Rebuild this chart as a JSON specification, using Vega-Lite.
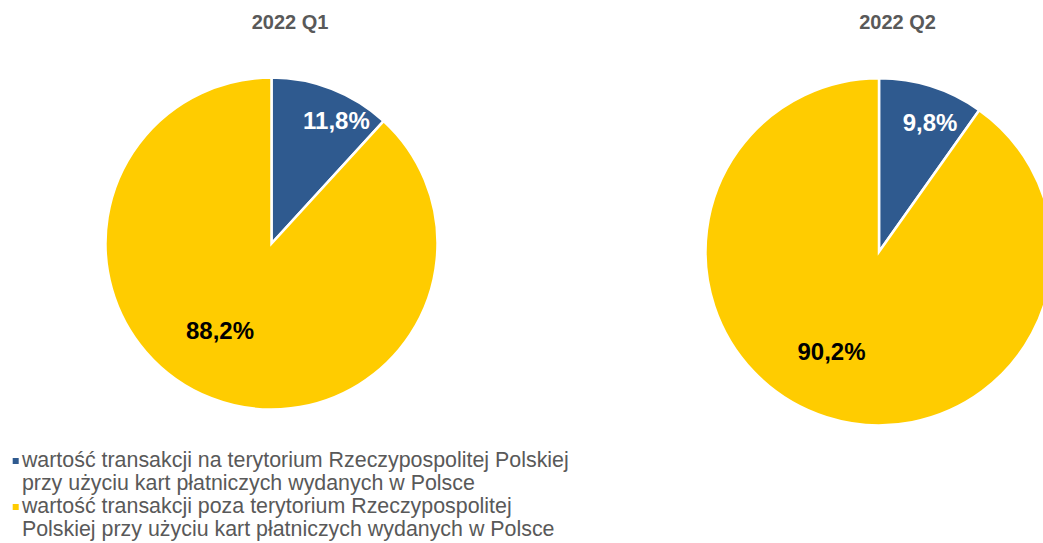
{
  "$schema": "https://vega.github.io/schema/vega-lite/v6.json",
  "width": 1043,
  "height": 503,
  "autosize": "none",
  "padding": {"top": 40, "left": 0, "right": 0, "bottom": 0},
  "background": "white",
  "config": {
    "view": {"stroke": null},
    "font": "Liberation Sans",
    "locale": {
      "number": {"decimal": ",", "thousands": " ", "grouping": [3], "currency": ["", " zł"], "percent": "%"}
    }
  },
  "data": {
    "values": [
      {"quarter": "2022 Q1", "category": "wartość transakcji na terytorium Rzeczypospolitej Polskiej przy użyciu kart płatniczych wydanych w Polsce", "value": 0.118},
      {"quarter": "2022 Q1", "category": "wartość transakcji poza terytorium Rzeczypospolitej Polskiej przy użyciu kart płatniczych wydanych w Polsce", "value": 0.882},
      {"quarter": "2022 Q2", "category": "wartość transakcji na terytorium Rzeczypospolitej Polskiej przy użyciu kart płatniczych wydanych w Polsce", "value": 0.098},
      {"quarter": "2022 Q2", "category": "wartość transakcji poza terytorium Rzeczypospolitej Polskiej przy użyciu kart płatniczych wydanych w Polsce", "value": 0.902}
    ]
  },
  "encoding": {
    "x": {
      "field": "quarter", "type": "nominal",
      "scale": {"type": "point", "range": [271.5, 879], "padding": 0},
      "axis": {
        "orient": "top", "title": null, "domain": false, "ticks": false, "grid": false,
        "labelAngle": 0, "labelFontSize": 20, "labelFontWeight": "bold", "labelColor": "#595959",
        "labelFont": "Liberation Sans", "labelBaseline": "alphabetic", "labelPadding": 12, "labelOffset": 18
      }
    },
    "y": {
      "field": "quarter", "type": "nominal",
      "scale": {"type": "point", "range": [203.5, 211.8], "padding": 0},
      "axis": null
    },
    "theta": {"field": "value", "type": "quantitative", "stack": true, "scale": {"domain": [0, 1]}}
  },
  "layer": [
    {
      "transform": [{"filter": "datum.quarter === '2022 Q1'"}],
      "mark": {"type": "arc", "outerRadius": 166, "stroke": "white", "strokeWidth": 2.5},
      "encoding": {
        "color": {
          "field": "category", "type": "nominal",
          "scale": {
            "domain": [
              "wartość transakcji na terytorium Rzeczypospolitej Polskiej przy użyciu kart płatniczych wydanych w Polsce",
              "wartość transakcji poza terytorium Rzeczypospolitej Polskiej przy użyciu kart płatniczych wydanych w Polsce"
            ],
            "range": ["#2F5A8F", "#FFCC00"]
          },
          "legend": {
            "orient": "none", "legendX": 5, "legendY": 409, "title": null,
            "symbolType": "M-1,2.7H1V4.7H-1Z", "symbolSize": 36, "symbolStrokeWidth": 0,
            "labelFont": "Liberation Sans", "labelFontSize": 21.4, "labelColor": "#595959",
            "labelLimit": 0, "labelBaseline": "top", "rowPadding": 0, "labelOffset": -4.5, "clipHeight": 2,
            "labelExpr": "indexof(datum.label, ' poza ') < 0 ? [slice(datum.label, 0, indexof(datum.label, ' przy')), slice(datum.label, indexof(datum.label, ' przy') + 1)] : [slice(datum.label, 0, indexof(datum.label, ' Polskiej')), slice(datum.label, indexof(datum.label, ' Polskiej') + 1)]"
          }
        }
      }
    },
    {
      "transform": [{"filter": "datum.quarter === '2022 Q2'"}],
      "mark": {"type": "arc", "outerRadius": 173.5, "stroke": "white", "strokeWidth": 2.5},
      "encoding": {"color": {"field": "category", "type": "nominal"}}
    },
    {
      "transform": [{"filter": "datum.quarter === '2022 Q1'"}],
      "mark": {"type": "text", "radius": 137.4, "thetaOffset": 0.1215, "fill": "white", "fontSize": 24, "fontWeight": "bold", "font": "Liberation Sans", "align": "center", "baseline": "middle"},
      "encoding": {
        "detail": {"field": "category", "type": "nominal"},
        "text": {"condition": {"test": "datum.value < 0.5", "field": "value", "type": "quantitative", "format": ".1%"}, "value": ""}
      }
    },
    {
      "transform": [{"filter": "datum.quarter === '2022 Q1'"}],
      "mark": {"type": "text", "radius": 102.8, "thetaOffset": 0.154, "fill": "black", "fontSize": 24, "fontWeight": "bold", "font": "Liberation Sans", "align": "center", "baseline": "middle"},
      "encoding": {
        "detail": {"field": "category", "type": "nominal"},
        "text": {"condition": {"test": "datum.value >= 0.5", "field": "value", "type": "quantitative", "format": ".1%"}, "value": ""}
      }
    },
    {
      "transform": [{"filter": "datum.quarter === '2022 Q2'"}],
      "mark": {"type": "text", "radius": 137.6, "thetaOffset": 0.072, "fill": "white", "fontSize": 24, "fontWeight": "bold", "font": "Liberation Sans", "align": "center", "baseline": "middle"},
      "encoding": {
        "detail": {"field": "category", "type": "nominal"},
        "text": {"condition": {"test": "datum.value < 0.5", "field": "value", "type": "quantitative", "format": ".1%"}, "value": ""}
      }
    },
    {
      "transform": [{"filter": "datum.quarter === '2022 Q2'"}],
      "mark": {"type": "text", "radius": 112.2, "thetaOffset": 0.129, "fill": "black", "fontSize": 24, "fontWeight": "bold", "font": "Liberation Sans", "align": "center", "baseline": "middle"},
      "encoding": {
        "detail": {"field": "category", "type": "nominal"},
        "text": {"condition": {"test": "datum.value >= 0.5", "field": "value", "type": "quantitative", "format": ".1%"}, "value": ""}
      }
    }
  ]
}
